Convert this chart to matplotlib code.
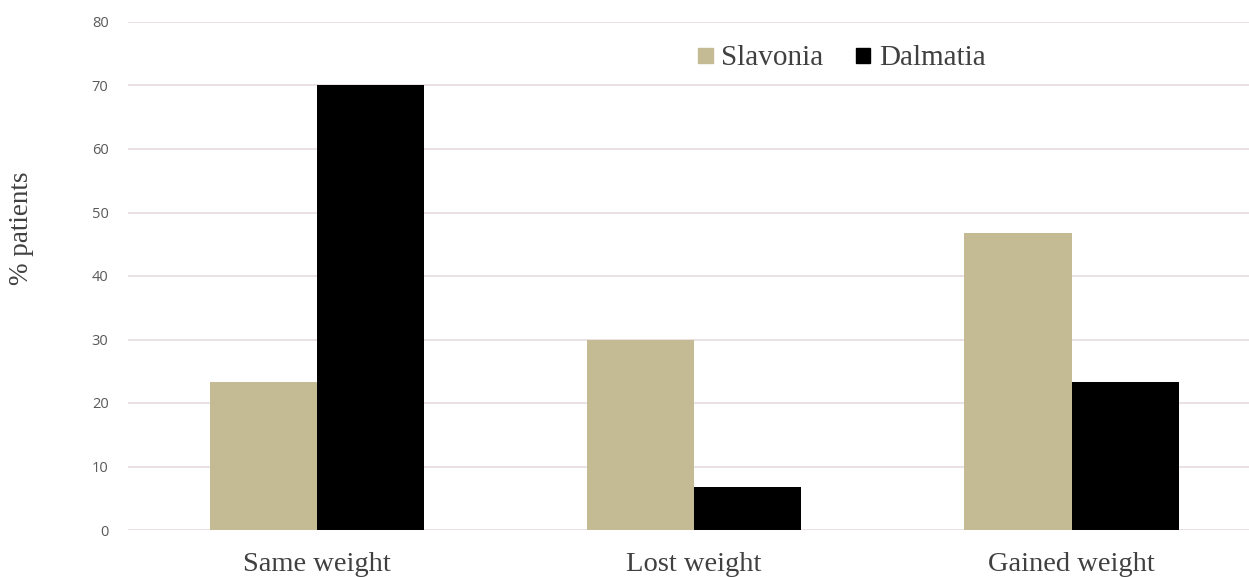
import matplotlib
matplotlib.use("Agg")
import matplotlib.pyplot as plt
import numpy as np
from matplotlib.patches import Patch

categories = ["Same weight", "Lost weight", "Gained weight"]
slavonia = [23.3, 30.0, 46.7]
dalmatia = [70.0, 6.7, 23.3]
yticks = [0, 10, 20, 30, 40, 50, 60, 70, 80]

tan = "#c4bb94"
black = "#000000"

fig = plt.figure(figsize=(12.49, 5.77), dpi=100)
ax = fig.add_axes([128/1249, 47/577, 1 - 128/1249, (530-22)/577])

x = np.arange(len(categories))
w = 0.284
ax.bar(x - w/2, slavonia, width=w, color=tan, zorder=3)
ax.bar(x + w/2, dalmatia, width=w, color=black, zorder=3)

ax.set_xlim(-0.5, 2.47)
ax.set_ylim(0, 80)
ax.set_yticks(yticks)
ax.set_yticklabels([str(t) for t in yticks], family="Open Sans", fontsize=10.5, color="#595959")
ax.yaxis.grid(True, color="#e8dfdf", linewidth=1.3, zorder=0)
ax.set_axisbelow(True)
for s in ax.spines.values():
    s.set_visible(False)
ax.tick_params(axis="y", length=0, pad=14)
ax.tick_params(axis="x", length=0, pad=16)
ax.set_xticks(x)
ax.set_xticklabels(categories, family="Liberation Serif", fontsize=20.5, color="#404040")

fig.text(22/1249, (577-228)/577, "% patients", rotation=90, ha="center", va="center",
         family="Liberation Serif", fontsize=19.5, color="#404040")

handles = [Patch(color=tan, label="Slavonia"), Patch(color=black, label="Dalmatia")]
leg = ax.legend(handles=handles, loc="center", frameon=False,
                ncol=2, prop={"family": "Liberation Serif", "size": 21}, handlelength=0.5,
                handleheight=0.5, handletextpad=0.3, columnspacing=1.1)
leg.set_bbox_to_anchor((842/1249, (577-58)/577), transform=fig.transFigure)
for t in leg.get_texts():
    t.set_color("#404040")
for h in leg.legend_handles:
    h.set_height(h.get_width())

fig.savefig("out.png", dpi=100)
